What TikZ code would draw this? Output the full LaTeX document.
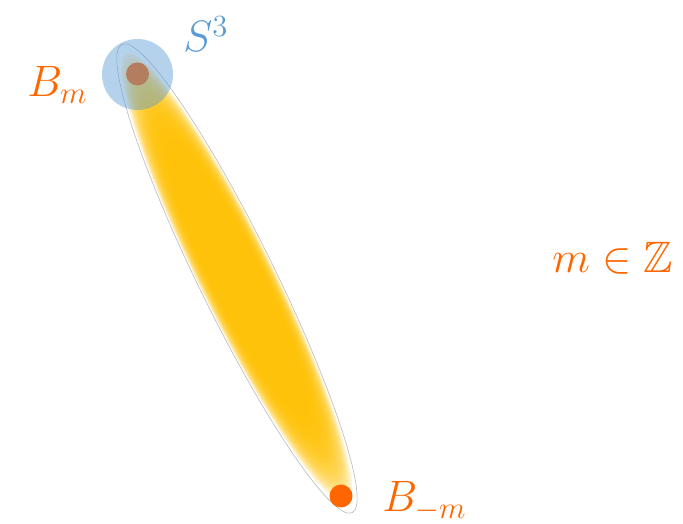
\RequirePackage{fix-cm}
\documentclass[tikz,border=0pt]{standalone}
\usepackage{amssymb}
\definecolor{bandyellow}{HTML}{FFC000}
\definecolor{ptorange}{HTML}{FF6600}
\definecolor{sphblue}{HTML}{5B9BD5}

\begin{document}
\begin{tikzpicture}[x=0.5pt, y=0.5pt,
      lbl/.style={inner sep=0pt, anchor=base west, font=\fontsize{22}{26}\selectfont},
      pt/.style={circle, fill=ptorange, inner sep=0pt, minimum size=11.5pt},
      sph/.style={circle, fill=sphblue, fill opacity=0.45, inner sep=0pt, minimum size=35.5pt}]
      \useasboundingbox (0,0) rectangle (683,523);
      % soft band between the two points
      \begin{scope}[shift={(237,244.5)}, rotate=-63.8]
        \foreach \i in {0,...,19}
          \fill[bandyellow, opacity=0.15] (0,0) ellipse ({250-5*\i} and {37-0.6*\i});
        \draw[gray!55, line width=0.3pt] (0,0) ellipse (261 and 38);
      \end{scope}
      \node[pt] (top) at (137.5,449) {};
      \node[pt] (bot) at (341,27) {};
      \node[sph] (ball) at (137.5,448.5) {};
      \node[lbl, text=ptorange] (lbm)  at (27,426)  {$B_m$};
      \node[lbl, text=sphblue]  (lsph) at (183,471) {$S^3$};
      \node[lbl, text=ptorange] (lbmm) at (382,11)  {$B_{-m}$};
      \node[lbl, text=ptorange] (lz)   at (552,250) {$m\in\mathbb{Z}$};
    \end{tikzpicture}
\end{document}
